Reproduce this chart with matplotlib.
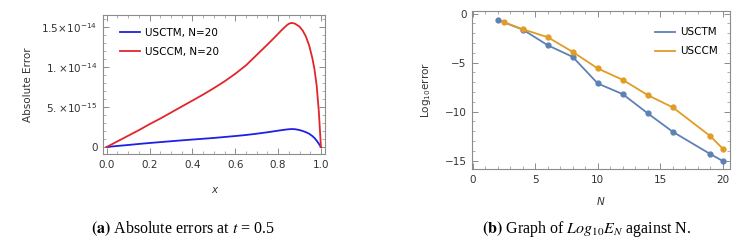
import matplotlib

matplotlib.use("Agg")

import matplotlib.pyplot as plt
import numpy as np
from matplotlib.lines import Line2D
from matplotlib.ticker import FixedLocator, MultipleLocator, FuncFormatter


# (a) absolute errors at t = 0.5, N = 20 (units of 1e-15)
x_pts = [0.0, 0.05, 0.1, 0.15, 0.2, 0.25, 0.3, 0.35, 0.4, 0.45, 0.5, 0.55,
         0.6, 0.65, 0.7, 0.75, 0.78, 0.8, 0.82, 0.84, 0.85, 0.86, 0.87, 0.88,
         0.9, 0.915, 0.93, 0.945, 0.96, 0.97, 0.98, 0.99, 1.0]
usccm_err = [0.0, 0.7, 1.4, 2.1, 2.85, 3.55, 4.3, 5.05, 5.8, 6.55, 7.35, 8.2,
             9.15, 10.2, 11.5, 12.8, 13.6, 14.15, 14.7, 15.2, 15.4, 15.5, 15.48, 15.4,
             15.05, 14.55, 13.8, 12.7, 11.1, 9.7, 7.7, 4.5, 0.0]
usctm_err = [0.0, 0.13, 0.25, 0.38, 0.5, 0.61, 0.72, 0.83, 0.93, 1.03, 1.13, 1.25,
             1.37, 1.5, 1.66, 1.84, 1.96, 2.04, 2.12, 2.19, 2.22, 2.24, 2.24, 2.22,
             2.12, 2.0, 1.85, 1.66, 1.37, 1.12, 0.8, 0.42, 0.0]

# (b) log10 error against N
n_usctm = [2, 4, 6, 8, 10, 12, 14, 16, 19, 20]
log_usctm = [-0.65, -1.63, -3.23, -4.42, -7.13, -8.22, -10.18, -12.06, -14.33, -15.04]
n_usccm = [2.5, 4, 6, 8, 10, 12, 14, 16, 19, 20]
log_usccm = [-0.89, -1.6, -2.41, -3.91, -5.6, -6.76, -8.32, -9.57, -12.5, -13.79]

W, H = 756, 246
FRAME = "#8c8c8c"
TXT = "#333333"
BLUE_B = "#5e81b5"
ORANGE_B = "#e19c24"

fig = plt.figure(figsize=(W / 100, H / 100), dpi=100)


def px_axes(left, top, right, bottom):
    return fig.add_axes([left / W, (H - bottom) / H, (right - left) / W, (bottom - top) / H])


def style_frame(ax):
    for spine in ax.spines.values():
        spine.set_color(FRAME)
        spine.set_linewidth(0.8)
    ax.tick_params(which="both", direction="in", top=True, right=True,
                   color=FRAME, labelcolor=TXT, labelsize=7.5, pad=4)
    ax.tick_params(which="major", length=4, width=0.7)
    ax.tick_params(which="minor", length=2, width=0.5)


# ---- left panel
ax1 = px_axes(103, 15, 325, 154)
ax1.plot(x_pts, np.array(usctm_err) * 1e-15, color="#1f1fe6", lw=1.3, label="USCTM, N=20")
ax1.plot(x_pts, np.array(usccm_err) * 1e-15, color="#e0262a", lw=1.3, label="USCCM, N=20")
ax1.set_xlim(-0.017, 1.019)
ax1.set_ylim(-0.875e-15, 16.5e-15)
ax1.xaxis.set_major_locator(MultipleLocator(0.2))
ax1.xaxis.set_minor_locator(MultipleLocator(0.05))
ax1.yaxis.set_major_locator(FixedLocator([0, 5e-15, 1e-14, 1.5e-14]))
ax1.yaxis.set_minor_locator(MultipleLocator(1e-15))
ylabels = {0: "0", 1: r"$5.\!\times\!10^{-15}$", 2: r"$1.\!\times\!10^{-14}$", 3: r"$1.5\!\times\!10^{-14}$"}
ax1.yaxis.set_major_formatter(FuncFormatter(lambda v, p: ylabels.get(p, "")))
ax1.xaxis.set_major_formatter(FuncFormatter(lambda v, p: f"{v:.1f}"))
style_frame(ax1)
ax1.set_xlabel("x", style="italic", fontsize=7.5, color=TXT, labelpad=11)
ax1.set_ylabel("Absolute Error", fontsize=7.5, color=TXT, labelpad=6)
ax1.legend(loc="upper left", bbox_to_anchor=(0.035, 0.975), frameon=False,
           fontsize=7.5, handlelength=1.9, handletextpad=0.5, labelspacing=0.85)

# ---- right panel
ax2 = px_axes(472, 11, 730, 169)
ax2.plot(n_usctm, log_usctm, color=BLUE_B, lw=1.3, marker="o", ms=3.5)
ax2.plot(n_usccm, log_usccm, color=ORANGE_B, lw=1.3, marker="o", ms=3.5)
ax2.set_xlim(-0.05, 20.57)
ax2.set_ylim(-15.85, 0.26)
ax2.xaxis.set_major_locator(MultipleLocator(5))
ax2.xaxis.set_minor_locator(MultipleLocator(1))
ax2.yaxis.set_major_locator(MultipleLocator(5))
ax2.yaxis.set_minor_locator(MultipleLocator(1))
ax2.yaxis.set_major_formatter(FuncFormatter(lambda v, p: f"{int(round(v))}".replace("-", "\u2212")))
style_frame(ax2)
ax2.set_xlabel("N", style="italic", fontsize=7.5, color=TXT, labelpad=9)
ax2.set_ylabel(r"Log$_{10}$error", fontsize=7.5, color=TXT, labelpad=8)
handles = [Line2D([], [], color=BLUE_B, lw=1.3), Line2D([], [], color=ORANGE_B, lw=1.3)]
ax2.legend(handles, ["USCTM", "USCCM"], loc="upper right", bbox_to_anchor=(0.99, 0.955),
           frameon=False, fontsize=7.5, handlelength=1.9, handletextpad=0.5, labelspacing=0.85)

# ---- captions
fig.text(183 / W, 1 - 229 / H, r"$\mathbf{(a)}$ Absolute errors at $t$ = 0.5",
         ha="center", va="center", family="Liberation Serif", math_fontfamily="stix",
         fontsize=11.5)
fig.text(587 / W, 1 - 229 / H, r"$\mathbf{(b)}$ Graph of $Log_{10}E_N$ against N.",
         ha="center", va="center", family="Liberation Serif", math_fontfamily="stix",
         fontsize=11.5)

fig.savefig("out.png", dpi=100)
